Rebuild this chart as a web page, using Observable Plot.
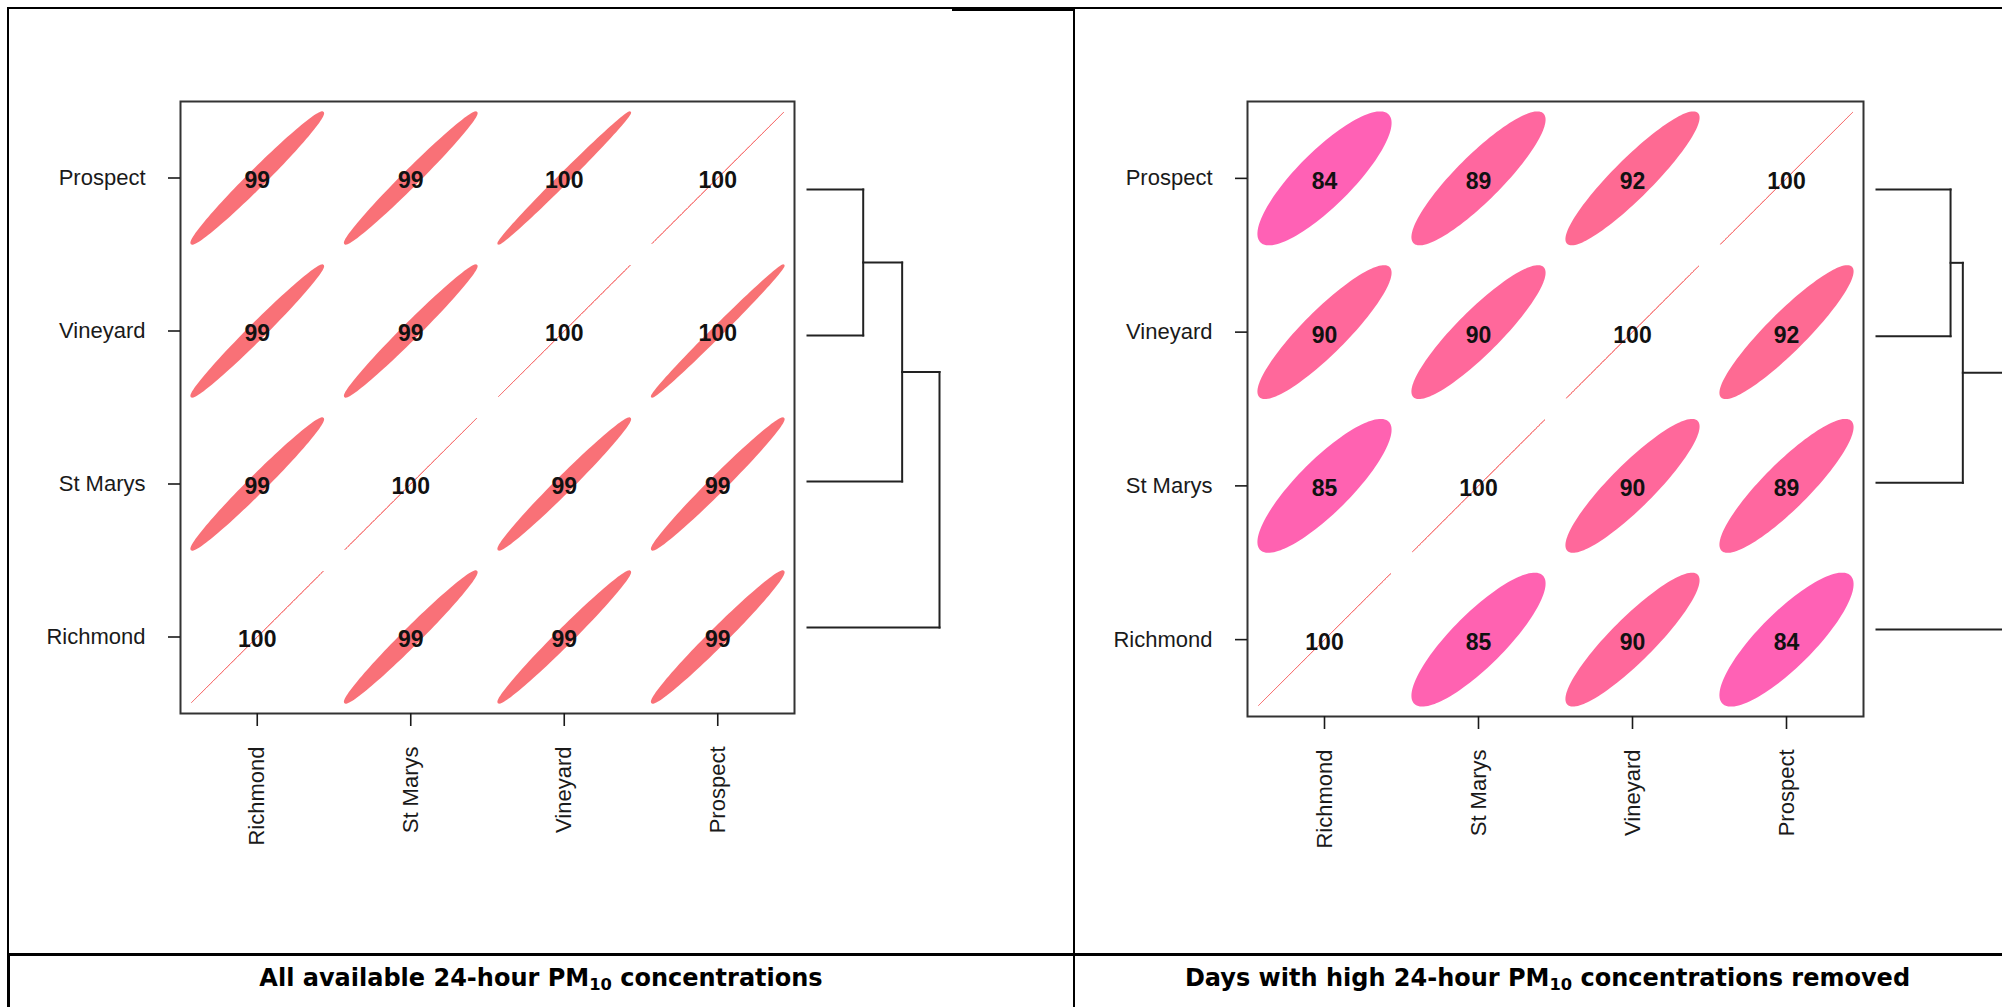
<!DOCTYPE html>
<html>
<head>
<meta charset="utf-8">
<script src="https://cdn.jsdelivr.net/npm/d3@7"></script>
<script src="https://cdn.jsdelivr.net/npm/@observablehq/plot@0.6"></script>
<style>
  html, body { margin: 0; padding: 0; background: #fff; }
  body { width: 2002px; height: 1007px; overflow: hidden; position: relative; font-family: "Liberation Sans", Arial, sans-serif; }
  .abs { position: absolute; }
  .hl { position: absolute; background: #000; }
  .cap { position: absolute; top: 962px; height: 32px; line-height: 32px; text-align: center;
         font-family: "DejaVu Sans", Verdana, sans-serif; font-weight: bold; font-size: 24px; color: #000; white-space: nowrap; }
  .cap sub { font-size: 0.68em; vertical-align: -0.25em; line-height: 0; }
  svg { max-width: none !important; background: transparent !important; }
</style>
</head>
<body>
<!-- table borders -->
<div class="hl" style="left:8px; top:7px; width:1994px; height:2px;"></div>
<div class="hl" style="left:952px; top:8px; width:122px; height:3px;"></div>
<div class="hl" style="left:7px; top:7px; width:2px; height:1000px;"></div>
<div class="hl" style="left:7px; top:954px; width:3px; height:53px;"></div>
<div class="hl" style="left:1073px; top:7px; width:2px; height:1000px;"></div>
<div class="hl" style="left:8px; top:953px; width:1994px; height:3px;"></div>

<div id="mLeft" class="abs" style="left:0px; top:0px; width:1074px; height:954px;"></div>
<div id="dLeft" class="abs" style="left:790px; top:150px; width:200px; height:520px;"></div>
<div id="mRight" class="abs" style="left:1074px; top:0px; width:928px; height:954px;"></div>
<div id="dRight" class="abs" style="left:1860px; top:150px; width:200px; height:520px;"></div>

<div class="cap" style="left:8px; width:1066px;">All available 24-hour PM<sub>10</sub> concentrations</div>
<div class="cap" style="left:1074px; width:947px;">Days with high 24-hour PM<sub>10</sub> concentrations removed</div>

<script>
// ---------------- data ----------------
const sites = ["Richmond", "St Marys", "Vineyard", "Prospect"];

// correlation matrices (rows/cols in the order of `sites`)
const corrAll = [
  [1.000, 0.985, 0.987, 0.985],
  [0.985, 1.000, 0.987, 0.987],
  [0.987, 0.987, 1.000, 0.995],
  [0.985, 0.987, 0.995, 1.000]
];
const corrFiltered = [
  [1.00, 0.85, 0.90, 0.84],
  [0.85, 1.00, 0.90, 0.89],
  [0.90, 0.90, 1.00, 0.92],
  [0.84, 0.89, 0.92, 1.00]
];

// dendrogram: merge sequence (same tree for both panels) and relative merge heights
const mergeSteps = [["Prospect", "Vineyard"], ["St Marys"], ["Richmond"]];
const mergeHeightsAll = [0.422, 0.717, 1.0];
const mergeHeightsFiltered = [0.561, 0.654, 1.0];

// ---------------- drawing ----------------
const T = Math.sqrt(4.60517) * 0.2; // ellipse size for level 0.9, scale 0.2
const colorScale = {type: "linear", domain: [0.84, 0.90, 1.0], range: ["#FF61B5", "#FF689B", "#F87272"], interpolate: "rgb"};

function matrixPlot(corr, m) {
  const cells = [];
  corr.forEach((row, i) => row.forEach((r, j) => cells.push({row: i, col: j, r, label: String(Math.round(r * 100))})));
  const pts = [];
  cells.forEach((c, k) => {
    const d = Math.acos(Math.min(1, c.r));
    for (let t = 0; t < 120; ++t) {
      const a = 2 * Math.PI * t / 120;
      pts.push({id: k, r: c.r, x: c.col + T * Math.cos(a + d / 2), y: c.row + T * Math.cos(a - d / 2)});
    }
  });
  return Plot.plot({
    width: m.width, height: m.height,
    marginLeft: m.left, marginRight: m.right, marginTop: m.top, marginBottom: m.bottom,
    style: {fontFamily: "'Liberation Sans', Arial, sans-serif", fontSize: "22px", color: "#1a1a1a", background: "transparent", overflow: "visible"},
    x: {domain: [-0.5, 3.5]},
    y: {domain: [-0.5, 3.5]},
    color: colorScale,
    marks: [
      Plot.line(pts, {x: "x", y: "y", z: "id", fill: "r", stroke: "r", strokeWidth: d => (d.r >= 1 ? 1 : 2), curve: "linear-closed"}),
      Plot.text(cells, {x: "col", y: "row", text: "label", fontWeight: "bold", fontSize: 23, dy: 3, fill: "#111"}),
      Plot.frame({stroke: "#333", strokeWidth: 2}),
      Plot.axisX({ticks: [0, 1, 2, 3], tickFormat: i => sites[i], tickRotate: -90, tickSize: 13, tickPadding: 20, strokeWidth: 1.6, fontSize: 22, label: null}),
      Plot.axisY({ticks: [0, 1, 2, 3], tickFormat: i => sites[i], tickSize: 12, tickPadding: 23, strokeWidth: 1.6, fontSize: 22, label: null})
    ]
  });
}

function dendroPlot(heights, m) {
  const node = {};
  sites.forEach((s, i) => node[s] = {y: i, h: 0});
  let cur = null;
  const segs = [];
  mergeSteps.forEach((step, k) => {
    const H = heights[k];
    const kids = cur ? [cur, ...step.map(s => node[s])] : step.map(s => node[s]);
    kids.forEach(c => segs.push({x1: c.h, y1: c.y, x2: H, y2: c.y}));
    segs.push({x1: H, y1: kids[0].y, x2: H, y2: kids[1].y});
    cur = {y: (kids[0].y + kids[1].y) / 2, h: H};
  });
  return Plot.plot({
    width: m.width, height: m.height,
    marginLeft: m.left, marginRight: m.right, marginTop: m.top, marginBottom: m.bottom,
    style: {background: "transparent", overflow: "visible"},
    x: {domain: [0, 1], axis: null},
    y: {domain: [0, 3], axis: null},
    marks: [
      Plot.link(segs, {x1: "x1", y1: "y1", x2: "x2", y2: "y2", stroke: "#222", strokeWidth: 2, strokeLinecap: "square"})
    ]
  });
}

document.getElementById("mLeft").append(matrixPlot(corrAll, {width: 1074, height: 954, left: 180, right: 280, top: 101, bottom: 241}));
document.getElementById("mRight").append(matrixPlot(corrFiltered, {width: 928, height: 954, left: 173, right: 139, top: 101, bottom: 238}));
document.getElementById("dLeft").append(dendroPlot(mergeHeightsAll, {width: 200, height: 520, left: 17, right: 51, top: 39, bottom: 43}));
document.getElementById("dRight").append(dendroPlot(mergeHeightsFiltered, {width: 200, height: 520, left: 16, right: 52, top: 39, bottom: 41}));
</script>
</body>
</html>
